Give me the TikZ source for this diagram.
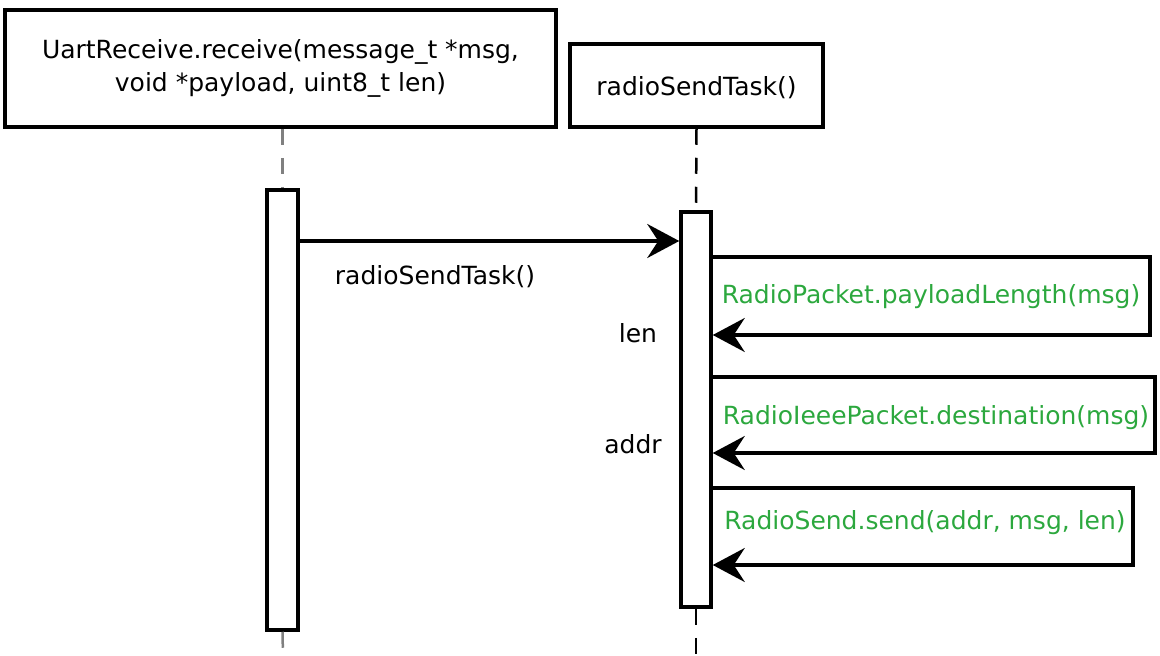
\documentclass[tikz,border=0pt]{standalone}
\usepackage{fontspec}
\setmainfont{DejaVu Sans}
\usetikzlibrary{arrows.meta}
\definecolor{callgreen}{RGB}{44,168,62}
\begin{document}
\begin{tikzpicture}[x=1pt,y=-1pt,
  txt/.style={font=\fontsize{25}{33}\selectfont},
  lifebox/.style={draw,line width=3.5pt,fill=white,inner sep=0pt,align=center,txt},
  actbar/.style={draw,line width=3.5pt,fill=white,minimum width=31pt,inner sep=0pt},
  lifeline/.style={line width=2.5pt,dash pattern=on 16pt off 13pt},
  msg/.style={line width=3.5pt,-{Stealth[length=32pt,width=34pt,inset=11pt]}},
  calltext/.style={txt,text=callgreen},
  lbl/.style={txt}
]
\useasboundingbox (0,0) rectangle (1160,656);

% participants
\node[lifebox,minimum width=551pt,minimum height=117pt] (uart) at (280.5,68.5)
  {\rule{0pt}{6pt}UartReceive.receive(message\_t *msg,\\void *payload, uint8\_t len)};
\node[lifebox,minimum width=253pt,minimum height=83pt] (task) at (696.5,85.5)
  {\rule{0pt}{24pt}radioSendTask()};

% activation bars
\node[actbar,minimum height=440pt] (uact) at (282.5,410) {};
\node[actbar,minimum width=30pt,minimum height=395pt] (tact) at (696,409.5) {};

% lifelines
\coordinate (uend) at (283,656);
\coordinate (tend) at (696,656);
\draw[lifeline,gray] (uart.south -| uact) -- (uact.north);
\draw[lifeline,gray] (uact.south) -- (uend);
\draw[lifeline,black] (task.south) -- (tact.north);
\draw[lifeline,black] (tact.south) -- (tend);

% call into the task
\coordinate (m1) at (0,241);
\draw[msg] (uact.east |- m1) -- (tact.west |- m1);
\node[lbl] (m1lbl) at (435,277) {radioSendTask()};

% self calls
\coordinate (c1a) at (1150,257);
\coordinate (c1b) at (1150,335);
\draw[msg] (tact.east |- c1a) -- (c1a) -- (c1b) -- (tact.east |- c1b);
\node[calltext] (c1lbl) at (931,297) {RadioPacket.payloadLength(msg)};
\node[lbl] (r1) at (638,333) {len};

\coordinate (c2a) at (1155,377);
\coordinate (c2b) at (1155,453);
\draw[msg] (tact.east |- c2a) -- (c2a) -- (c2b) -- (tact.east |- c2b);
\node[calltext] (c2lbl) at (936,418) {RadioIeeePacket.destination(msg)};
\node[lbl] (r2) at (633,444) {addr};

\coordinate (c3a) at (1133,488);
\coordinate (c3b) at (1133,565);
\draw[msg] (tact.east |- c3a) -- (c3a) -- (c3b) -- (tact.east |- c3b);
\node[calltext] (c3lbl) at (925,523) {RadioSend.send(addr, msg, len)};
\end{tikzpicture}
\end{document}
